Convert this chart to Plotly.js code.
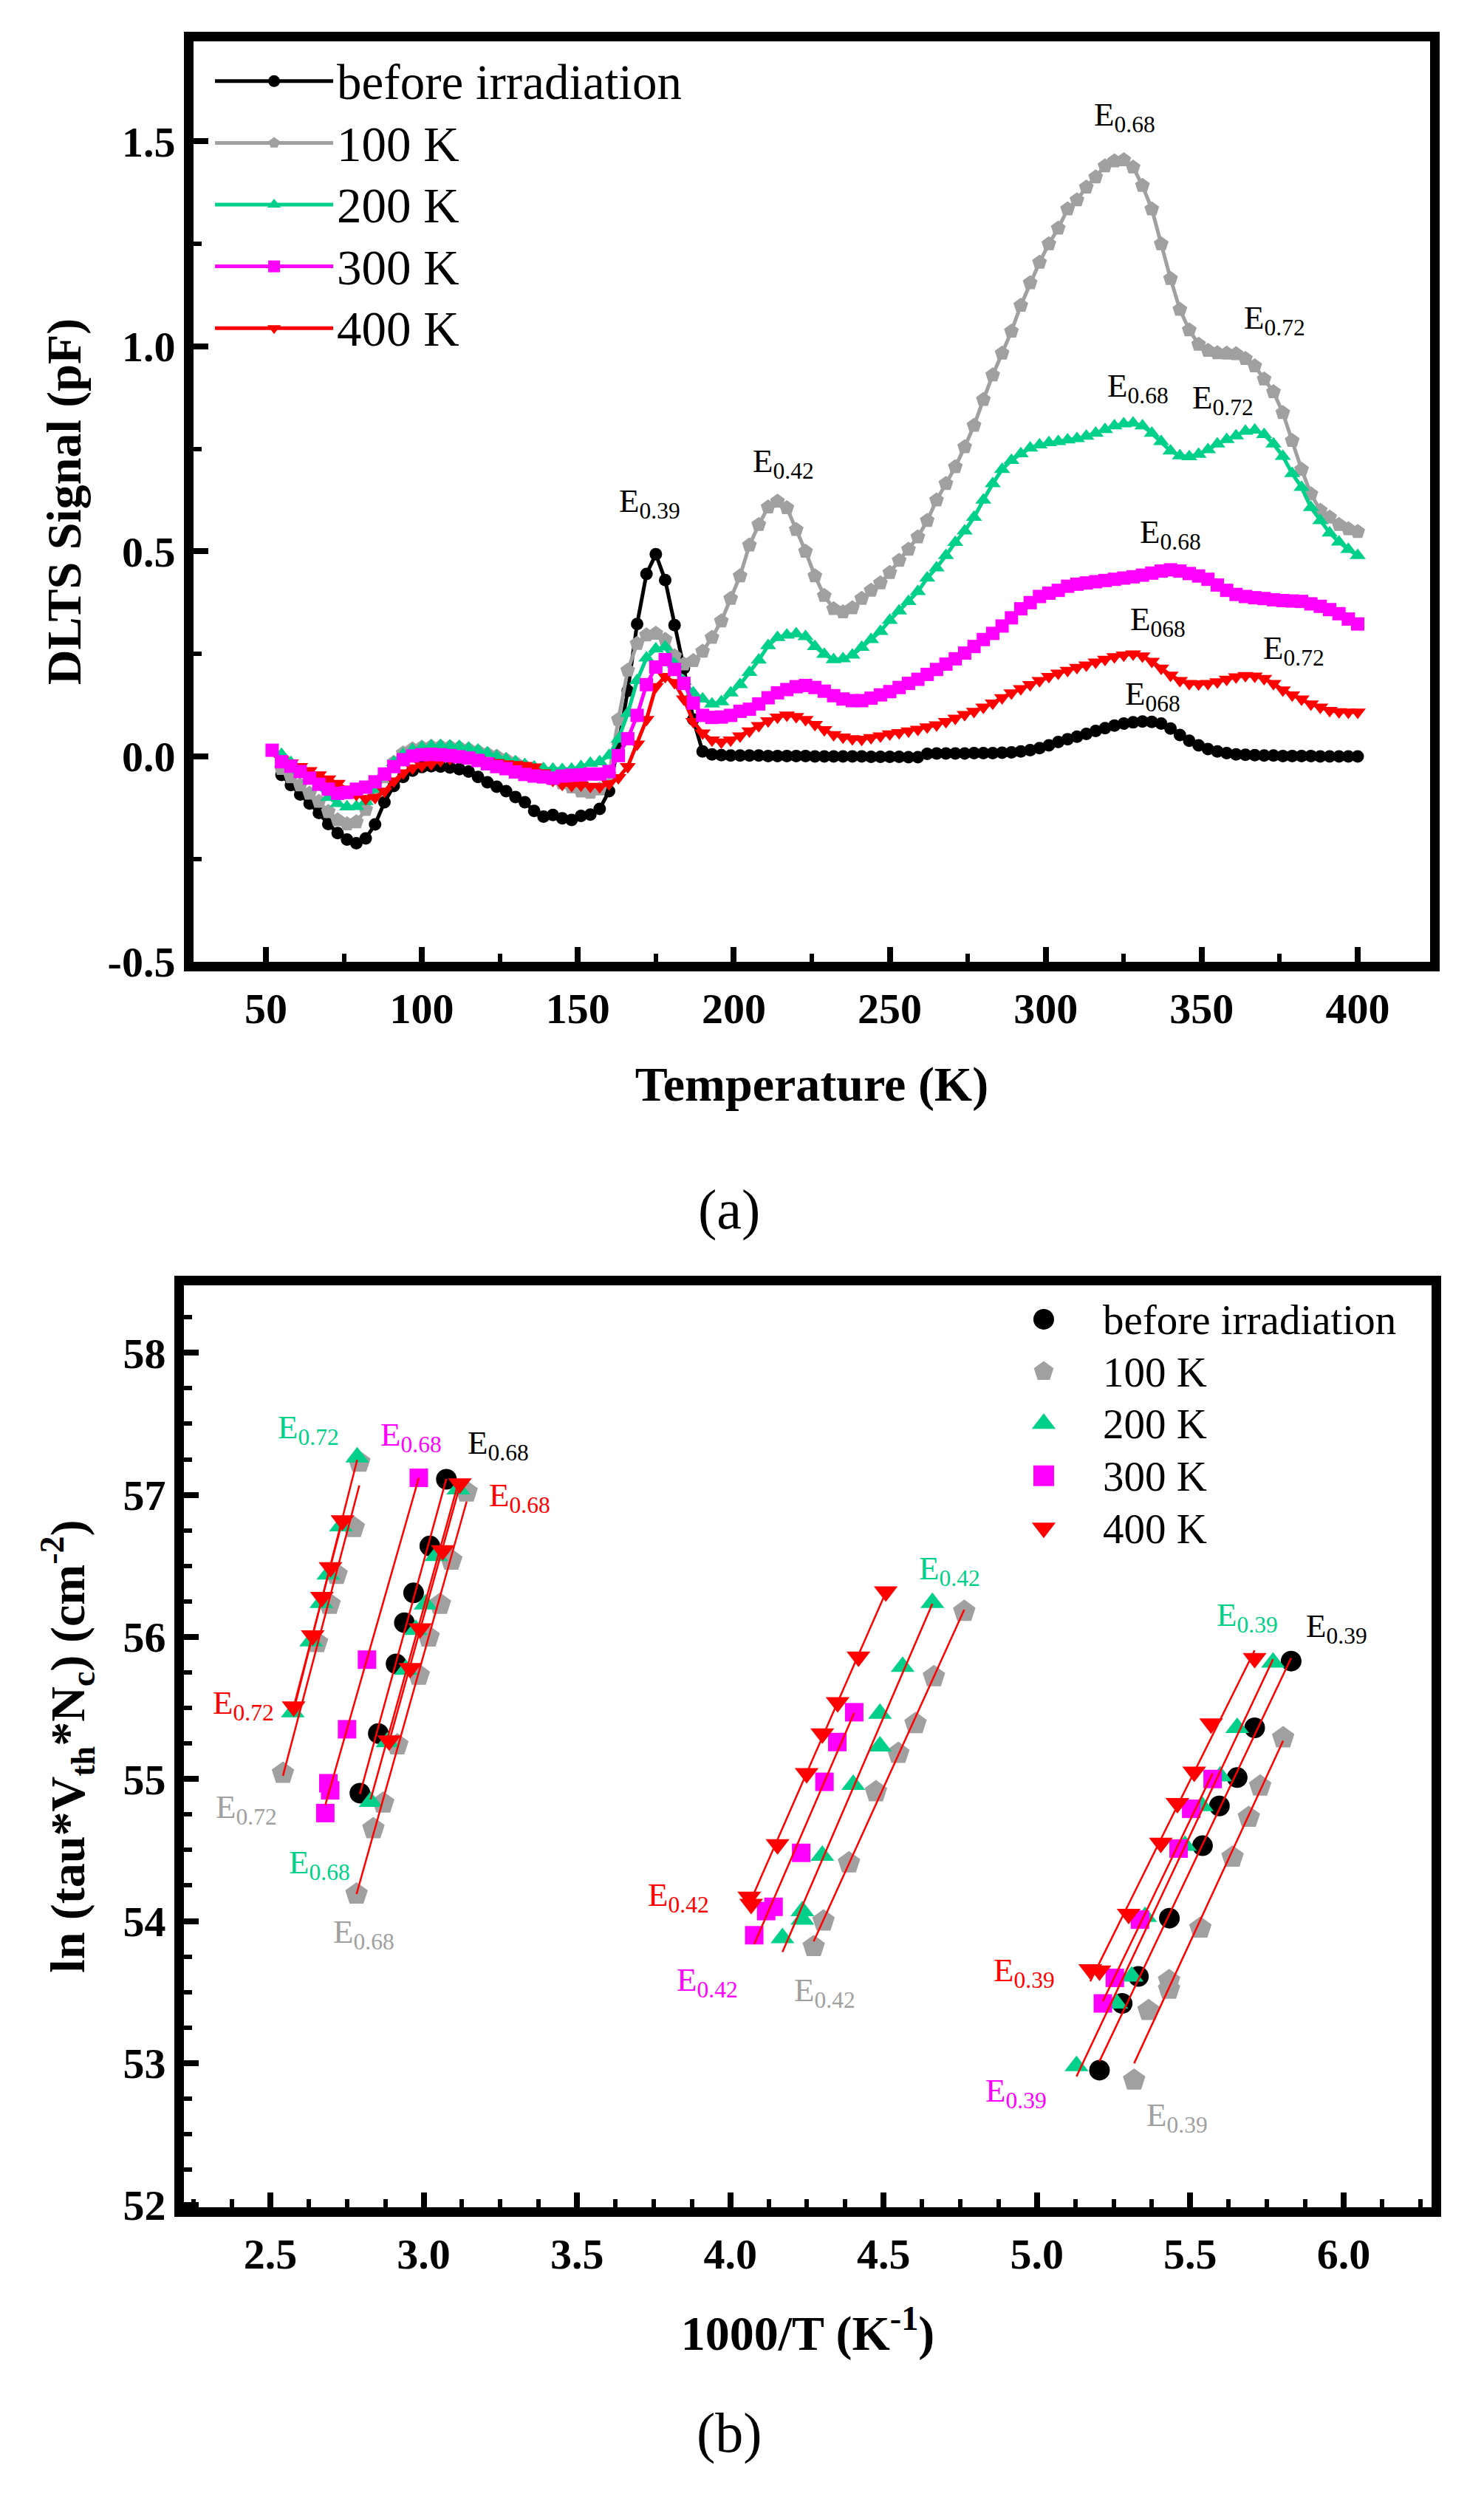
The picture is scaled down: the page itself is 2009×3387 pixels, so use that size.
<!DOCTYPE html>
<html>
<head>
<meta charset="utf-8">
<script src="https://cdn.plot.ly/plotly-3.0.1.min.js"></script>
<style>html,body{margin:0;padding:0;background:#fff}#chart{width:2009px;height:3387px}</style>
</head>
<body>
<div id="chart"></div>
<script>
// ===================== Panel (a): DLTS spectra =====================
const temperature = [55,58,61,64,67,70,73,76,79,82,85,88,91,94,97,100,103,106,109,112,115,118,121,124,127,130,133,136,139,142,145,148,151,154,157,160,163,166,169,172,175,178,181,184,187,190,193,196,199,202,205,208,211,214,217,220,223,226,229,232,235,238,241,244,247,250,253,256,259,262,265,268,271,274,277,280,283,286,289,292,295,298,301,304,307,310,313,316,319,322,325,328,331,334,337,340,343,346,349,352,355,358,361,364,367,370,373,376,379,382,385,388,391,394,397,400];
const temperature300 = [52,55,58,61,64,67,70,73,76,79,82,85,88,91,94,97,100,103,106,109,112,115,118,121,124,127,130,133,136,139,142,145,148,151,154,157,160,163,166,169,172,175,178,181,184,187,190,193,196,199,202,205,208,211,214,217,220,223,226,229,232,235,238,241,244,247,250,253,256,259,262,265,268,271,274,277,280,283,286,289,292,295,298,301,304,307,310,313,316,319,322,325,328,331,334,337,340,343,346,349,352,355,358,361,364,367,370,373,376,379,382,385,388,391,394,397,400];

const dltsBefore = [
 -0.045,-0.070,-0.093,-0.115,-0.138,-0.165,-0.187,-0.203,-0.212,-0.200,
 -0.166,-0.112,-0.072,-0.050,-0.035,-0.026,-0.024,-0.025,-0.027,-0.031,
 -0.037,-0.050,-0.063,-0.074,-0.085,-0.099,-0.112,-0.133,-0.147,-0.143,
 -0.151,-0.155,-0.145,-0.142,-0.128,-0.085,0.030,0.160,0.323,0.445,
 0.493,0.430,0.320,0.215,0.090,0.012,0.005,0.003,0.002,0.002,
 0.002,0.002,0.001,0.001,0.001,0.001,0.001,0.000,0.000,0.000,
 0.000,0.000,0.000,-0.001,-0.001,-0.001,-0.001,-0.002,-0.002,0.006,
 0.007,0.007,0.007,0.007,0.008,0.008,0.008,0.009,0.010,0.012,
 0.015,0.020,0.027,0.035,0.042,0.048,0.055,0.062,0.069,0.075,
 0.080,0.083,0.085,0.084,0.080,0.068,0.052,0.038,0.027,0.018,
 0.012,0.008,0.005,0.004,0.003,0.002,0.002,0.001,0.001,0.001,
 0.001,0.000,0.000,0.000,0.000,0.000];

const dlts100K = [
 -0.030,-0.050,-0.070,-0.090,-0.110,-0.135,-0.155,-0.165,-0.160,-0.130,
 -0.085,-0.050,-0.015,0.008,0.018,0.022,0.024,0.024,0.023,0.021,
 0.017,0.012,0.006,0.000,-0.008,-0.016,-0.025,-0.035,-0.045,-0.055,
 -0.065,-0.075,-0.085,-0.088,-0.080,-0.045,0.090,0.210,0.275,0.296,
 0.300,0.285,0.245,0.225,0.233,0.256,0.290,0.330,0.385,0.440,
 0.515,0.565,0.608,0.622,0.606,0.553,0.500,0.440,0.392,0.360,
 0.352,0.362,0.385,0.405,0.423,0.448,0.478,0.505,0.535,0.575,
 0.625,0.665,0.706,0.755,0.807,0.870,0.930,0.983,1.037,1.100,
 1.155,1.205,1.250,1.288,1.335,1.357,1.388,1.413,1.440,1.452,
 1.455,1.437,1.392,1.335,1.250,1.165,1.090,1.040,1.005,0.990,
 0.984,0.983,0.982,0.970,0.952,0.920,0.889,0.838,0.770,0.700,
 0.640,0.600,0.583,0.565,0.555,0.548];

const dlts200K = [
 0.005,-0.015,-0.035,-0.055,-0.075,-0.100,-0.115,-0.123,-0.122,-0.110,
 -0.080,-0.045,-0.015,0.005,0.016,0.022,0.025,0.026,0.025,0.024,
 0.020,0.015,0.008,0.000,-0.007,-0.013,-0.020,-0.026,-0.030,-0.031,
 -0.032,-0.031,-0.025,-0.017,-0.013,0.002,0.042,0.105,0.185,0.240,
 0.262,0.267,0.225,0.183,0.155,0.140,0.128,0.133,0.155,0.175,
 0.205,0.235,0.270,0.290,0.296,0.299,0.292,0.268,0.249,0.236,
 0.238,0.247,0.266,0.285,0.305,0.332,0.355,0.378,0.402,0.435,
 0.460,0.490,0.522,0.550,0.583,0.625,0.665,0.700,0.722,0.738,
 0.752,0.760,0.765,0.768,0.772,0.775,0.781,0.788,0.797,0.806,
 0.811,0.813,0.806,0.788,0.768,0.745,0.733,0.731,0.737,0.748,
 0.762,0.773,0.782,0.793,0.796,0.785,0.762,0.732,0.690,0.656,
 0.607,0.575,0.545,0.523,0.505,0.490];

const dlts300K = [0.015,
 -0.013,-0.024,-0.037,-0.053,-0.068,-0.080,-0.090,-0.088,-0.080,-0.075,
 -0.062,-0.043,-0.025,-0.008,0.001,0.004,0.005,0.004,0.002,-0.001,
 -0.004,-0.010,-0.018,-0.025,-0.030,-0.038,-0.044,-0.048,-0.050,-0.053,
 -0.048,-0.046,-0.045,-0.043,-0.043,-0.037,0.002,0.043,0.100,0.175,
 0.218,0.236,0.212,0.178,0.130,0.100,0.095,0.096,0.100,0.110,
 0.115,0.128,0.143,0.155,0.163,0.170,0.173,0.168,0.159,0.148,
 0.140,0.136,0.136,0.142,0.150,0.158,0.168,0.178,0.188,0.200,
 0.212,0.225,0.238,0.252,0.268,0.285,0.300,0.318,0.338,0.360,
 0.375,0.390,0.398,0.405,0.415,0.420,0.423,0.426,0.429,0.432,
 0.435,0.438,0.442,0.447,0.452,0.455,0.452,0.446,0.440,0.432,
 0.418,0.405,0.395,0.390,0.387,0.385,0.382,0.380,0.379,0.378,
 0.372,0.366,0.358,0.348,0.335,0.323];

const dlts400K = [
 -0.008,-0.016,-0.025,-0.035,-0.045,-0.055,-0.066,-0.080,-0.093,-0.103,
 -0.100,-0.085,-0.060,-0.040,-0.028,-0.022,-0.018,-0.010,-0.005,-0.002,
 -0.004,-0.008,-0.012,-0.015,-0.018,-0.020,-0.022,-0.026,-0.040,-0.058,
 -0.068,-0.071,-0.070,-0.073,-0.074,-0.067,-0.052,-0.025,0.030,0.090,
 0.170,0.195,0.180,0.140,0.085,0.057,0.040,0.035,0.040,0.050,
 0.062,0.075,0.087,0.096,0.101,0.097,0.090,0.078,0.065,0.053,
 0.047,0.043,0.042,0.046,0.050,0.055,0.058,0.062,0.066,0.072,
 0.077,0.085,0.093,0.102,0.110,0.120,0.130,0.143,0.155,0.165,
 0.175,0.185,0.195,0.203,0.210,0.217,0.223,0.230,0.237,0.243,
 0.247,0.250,0.245,0.232,0.215,0.198,0.185,0.178,0.177,0.178,
 0.182,0.188,0.194,0.197,0.196,0.190,0.178,0.162,0.150,0.140,
 0.128,0.120,0.112,0.109,0.108,0.108];

const seriesNames = ['before irradiation','100 K','200 K','300 K','400 K'];
const dltsTickVals = [-0.5, 0.0, 0.5, 1.0, 1.5];
const dltsTickText = ['-0.5', '0.0', '0.5', '1.0', '1.5'];

// ===================== Panel (b): Arrhenius plot =====================
// before irradiation
const arrBeforeE068x = [3.074,3.020,2.967,2.937,2.910,2.852,2.792];
const arrBeforeE068y = [57.11,56.64,56.31,56.10,55.81,55.32,54.90];
const arrBeforeE039x = [5.829,5.710,5.653,5.595,5.540,5.432,5.331,5.278,5.204];
const arrBeforeE039y = [55.83,55.36,55.01,54.81,54.53,54.02,53.61,53.42,52.95];
// 100 K
const arr100E072x = [2.790,2.772,2.716,2.693,2.652,2.541];
const arr100E072y = [57.23,56.77,56.44,56.23,55.96,55.04];
const arr100E068x = [3.140,3.090,3.053,3.016,2.984,2.914,2.868,2.836,2.781];
const arr100E068y = [57.02,56.54,56.23,56.00,55.73,55.24,54.83,54.65,54.19];
const arr100E042x = [4.763,4.664,4.604,4.548,4.475,4.387,4.304,4.272];
const arr100E042y = [56.18,55.72,55.39,55.18,54.91,54.41,54.00,53.82];
const arr100E039x = [5.803,5.728,5.691,5.638,5.533,5.431,5.431,5.364,5.317];
const arr100E039y = [55.29,54.95,54.73,54.45,53.95,53.58,53.52,53.37,52.88];
// 200 K
const arr200E072x = [2.783,2.730,2.689,2.666,2.633,2.573];
const arr200E072y = [57.265,56.78,56.44,56.24,55.97,55.47];
const arr200E068x = [3.113,3.041,3.006,2.974,2.942,2.882,2.827];
const arr200E068y = [57.04,56.57,56.23,56.05,55.77,55.26,54.84];
const arr200E042x = [4.659,4.562,4.488,4.488,4.401,4.300,4.235,4.235,4.170];
const arr200E042y = [56.24,55.79,55.46,55.23,54.96,54.46,54.07,54.01,53.88];
const arr200E039x = [5.770,5.653,5.598,5.538,5.483,5.353,5.309,5.259,5.129];
const arr200E039y = [55.82,55.36,55.02,54.81,54.53,54.03,53.61,53.42,52.98];
// 300 K
const arr300E068x = [2.984,2.815,2.750,2.689,2.695,2.679];
const arr300E068y = [57.12,55.84,55.35,54.97,54.92,54.76];
const arr300E042x = [4.404,4.349,4.307,4.231,4.141,4.117,4.078];
const arr300E042y = [55.47,55.26,54.98,54.48,54.10,54.07,53.90];
const arr300E039x = [5.573,5.503,5.462,5.336,5.254,5.215];
const arr300E039y = [55.00,54.79,54.51,54.01,53.60,53.42];
// 400 K
const arr400E072x = [2.735,2.696,2.668,2.638,2.576];
const arr400E072y = [56.82,56.49,56.28,56.01,55.51];
const arr400E068x = [3.118,3.062,2.988,2.956,2.887];
const arr400E068y = [57.08,56.61,56.06,55.78,55.27];
const arr400E042x = [4.507,4.418,4.350,4.300,4.249,4.154,4.068,4.062];
const arr400E042y = [56.32,55.86,55.54,55.32,55.04,54.54,54.12,54.17];
const arr400E039x = [5.710,5.568,5.513,5.458,5.404,5.299,5.204,5.174];
const arr400E039y = [55.85,55.39,55.05,54.83,54.55,54.05,53.65,53.66];

// peak labels
const labelsA = [
 ['E<sub>0.39</sub>',173.1,0.618],['E<sub>0.42</sub>',216.0,0.716],['E<sub>0.68</sub>',325.3,1.561],
 ['E<sub>0.72</sub>',373.3,1.065],['E<sub>0.68</sub>',329.5,0.899],['E<sub>0.72</sub>',356.7,0.870],
 ['E<sub>0.68</sub>',339.9,0.543],['E<sub>068</sub>',336.0,0.329],['E<sub>0.72</sub>',379.5,0.260],
 ['E<sub>068</sub>',334.4,0.147]];
const labelsB = [
 ['E<sub>0.72</sub>',2.624,57.46,'k200'],['E<sub>0.68</sub>',2.960,57.41,'k300'],['E<sub>0.68</sub>',3.244,57.35,'before'],
 ['E<sub>0.68</sub>',3.313,56.98,'k400'],['E<sub>0.72</sub>',2.412,55.52,'k400'],['E<sub>0.72</sub>',2.421,54.79,'k100'],
 ['E<sub>0.68</sub>',2.661,54.40,'k200'],['E<sub>0.68</sub>',2.804,53.91,'k100'],
 ['E<sub>0.42</sub>',4.714,56.47,'k200'],['E<sub>0.42</sub>',3.830,54.17,'k400'],['E<sub>0.42</sub>',3.926,53.57,'k300'],
 ['E<sub>0.42</sub>',4.309,53.50,'k100'],
 ['E<sub>0.39</sub>',5.686,56.14,'k200'],['E<sub>0.39</sub>',5.978,56.06,'before'],['E<sub>0.39</sub>',4.959,53.64,'k400'],
 ['E<sub>0.39</sub>',4.931,52.79,'k300'],['E<sub>0.39</sub>',5.457,52.62,'k100']];

// ===================== styling =====================
const SERIF = '"Liberation Serif", "DejaVu Serif", serif';
const COL = {before:'#000000', k100:'#A0A0A0', k200:'#00D08A', k300:'#FF00FF', k400:'#FF0000'};

function topTrace(name, x, y, color, symbol, size, rank) {
  return {type:'scatter', mode:'lines+markers', name:'<span style="font-size:67px">' + name + '</span>', x:x, y:y, xaxis:'x', yaxis:'y',
    legend:'legend', legendrank:rank, line:{color:color, width:5},
    marker:{color:color, symbol:symbol, size:size, line:{width:0}}, hoverinfo:'x+y'};
}
function botTrace(name, groupsX, groupsY, color, symbol, size, rank) {
  return {type:'scatter', mode:'markers', name:'<span style="font-size:57px">' + name + '</span>', x:[].concat(...groupsX), y:[].concat(...groupsY),
    xaxis:'x2', yaxis:'y2', legend:'legend2', legendrank:rank,
    marker:{color:color, symbol:symbol, size:size, line:{width:0}}};
}
function fitTrace(groupsX, groupsY) {
  const fx = [], fy = [];
  groupsX.forEach((xs, i) => {
    const ys = groupsY[i], n = xs.length;
    const mx = xs.reduce((a,b)=>a+b,0)/n, my = ys.reduce((a,b)=>a+b,0)/n;
    let sxy = 0, sxx = 0;
    for (let k=0;k<n;k++){ sxy += (xs[k]-mx)*(ys[k]-my); sxx += (xs[k]-mx)*(xs[k]-mx); }
    const b = sxy/sxx, a = my - b*mx;
    const x0 = Math.min(...xs), x1 = Math.max(...xs);
    fx.push(x0, x1, null); fy.push(a+b*x0, a+b*x1, null);
  });
  return {type:'scatter', mode:'lines', x:fx, y:fy, xaxis:'x2', yaxis:'y2', showlegend:false,
    line:{color:'#FF0000', width:2.5}, hoverinfo:'skip'};
}

const gBeforeX = [arrBeforeE068x, arrBeforeE039x], gBeforeY = [arrBeforeE068y, arrBeforeE039y];
const g100X = [arr100E072x, arr100E068x, arr100E042x, arr100E039x], g100Y = [arr100E072y, arr100E068y, arr100E042y, arr100E039y];
const g200X = [arr200E072x, arr200E068x, arr200E042x, arr200E039x], g200Y = [arr200E072y, arr200E068y, arr200E042y, arr200E039y];
const g300X = [arr300E068x, arr300E042x, arr300E039x], g300Y = [arr300E068y, arr300E042y, arr300E039y];
const g400X = [arr400E072x, arr400E068x, arr400E042x, arr400E039x], g400Y = [arr400E072y, arr400E068y, arr400E042y, arr400E039y];

const data = [
  topTrace(seriesNames[0], temperature, dltsBefore, COL.before, 'circle', 17, 1),
  topTrace(seriesNames[1], temperature, dlts100K, COL.k100, 'pentagon', 21, 2),
  topTrace(seriesNames[2], temperature, dlts200K, COL.k200, 'triangle-up', 19, 3),
  topTrace(seriesNames[4], temperature, dlts400K, COL.k400, 'triangle-down', 19, 5),
  topTrace(seriesNames[3], temperature300, dlts300K, COL.k300, 'square', 18, 4),
  botTrace(seriesNames[0], gBeforeX, gBeforeY, COL.before, 'circle', 28, 1),
  botTrace(seriesNames[1], g100X, g100Y, COL.k100, 'pentagon', 32, 2),
  botTrace(seriesNames[2], g200X, g200Y, COL.k200, 'triangle-up', 28, 3),
  botTrace(seriesNames[3], g300X, g300Y, COL.k300, 'square', 25, 4),
  botTrace(seriesNames[4], g400X, g400Y, COL.k400, 'triangle-down', 28, 5),
  fitTrace(gBeforeX, gBeforeY), fitTrace(g100X, g100Y), fitTrace(g200X, g200Y),
  fitTrace(g300X, g300Y), fitTrace(g400X, g400Y)
];

const tickFont = {family:SERIF, size:58, color:'#000', weight:'bold'};
const titleFont = {family:SERIF, size:66, color:'#000', weight:'bold'};
function axisBase() {
  return {showline:true, linewidth:13, linecolor:'#000', mirror:true, showgrid:false, zeroline:false,
    ticks:'inside', ticklen:20, tickwidth:8, tickcolor:'#000', tickfont:tickFont};
}
function minorTicks(dtick) {
  return {tickmode:'linear', tick0:0, dtick:dtick, ticks:'inside', ticklen:11, tickwidth:6, tickcolor:'#000', showgrid:false};
}

const annotations = [];
labelsA.forEach(l => annotations.push({text:l[0], x:l[1], y:l[2], xref:'x', yref:'y', showarrow:false,
  font:{family:SERIF, size:45, color:'#000'}}));
labelsB.forEach(l => annotations.push({text:l[0], x:l[1], y:l[2], xref:'x2', yref:'y2', showarrow:false,
  font:{family:SERIF, size:45, color:COL[l[3]]}}));
annotations.push({text:'(a)', x:0.4913, y:0.5164, xref:'paper', yref:'paper', showarrow:false,
  font:{family:SERIF, size:76, color:'#000'}});
annotations.push({text:'(b)', x:0.4913, y:0.0145, xref:'paper', yref:'paper', showarrow:false,
  font:{family:SERIF, size:76, color:'#000'}});

const layout = {
  width:2009, height:3387, margin:{l:0, r:0, t:0, b:0},
  paper_bgcolor:'#ffffff', plot_bgcolor:'#ffffff',
  font:{family:SERIF, color:'#000'},
  xaxis: Object.assign(axisBase(), {domain:[0.13041,0.96366], range:[26.8,423.2], anchor:'y',
    tick0:0, dtick:50, minor:minorTicks(25),
    title:{text:'Temperature (K)', font:titleFont, standoff:53}}),
  yaxis: Object.assign(axisBase(), {domain:[0.61559,0.98347], range:[-0.501,1.744], anchor:'x',
    tickmode:'array', tickvals:dltsTickVals, ticktext:dltsTickText, minor:minorTicks(0.25),
    title:{text:'DLTS Signal (pF)', font:titleFont, standoff:20}}),
  xaxis2: Object.assign(axisBase(), {domain:[0.12394,0.96466], range:[2.218,6.287], anchor:'y2',
    tick0:0, dtick:0.5, tickformat:'.1f', minor:minorTicks(0.125),
    title:{text:'1000/T (K<sup>-1</sup>)', font:titleFont, standoff:58}}),
  yaxis2: Object.assign(axisBase(), {domain:[0.11780,0.48627], range:[51.985,58.475], anchor:'x2',
    tick0:0, dtick:1, minor:minorTicks(0.25),
    title:{text:'ln (tau*V<sub>th</sub>*N<sub>c</sub>) (cm<sup>-2</sup>)', font:titleFont, standoff:36}}),
  legend: {x:0.1424, y:0.9814, xanchor:'left', yanchor:'top', bgcolor:'rgba(0,0,0,0)', borderwidth:0,
    font:{family:SERIF, size:62, color:'#000'}, itemwidth:160, traceorder:'normal'},
  legend2: {x:0.6635, y:0.4846, xanchor:'left', yanchor:'top', bgcolor:'rgba(0,0,0,0)', borderwidth:0,
    font:{family:SERIF, size:52, color:'#000'}, itemwidth:150, traceorder:'normal'},
  annotations: annotations,
  showlegend:true
};

Plotly.newPlot('chart', data, layout, {displayModeBar:false, staticPlot:true}).then(gd => {
  // enlarge the marker-only legend symbols of panel (b) to the size used in the plot
  gd.querySelectorAll('.legend2 .legendpoints path.scatterpts').forEach(p => {
    const t = p.getAttribute('transform') || '';
    p.setAttribute('transform', t + ' scale(1.75)');
  });
});
</script>
</body>
</html>
